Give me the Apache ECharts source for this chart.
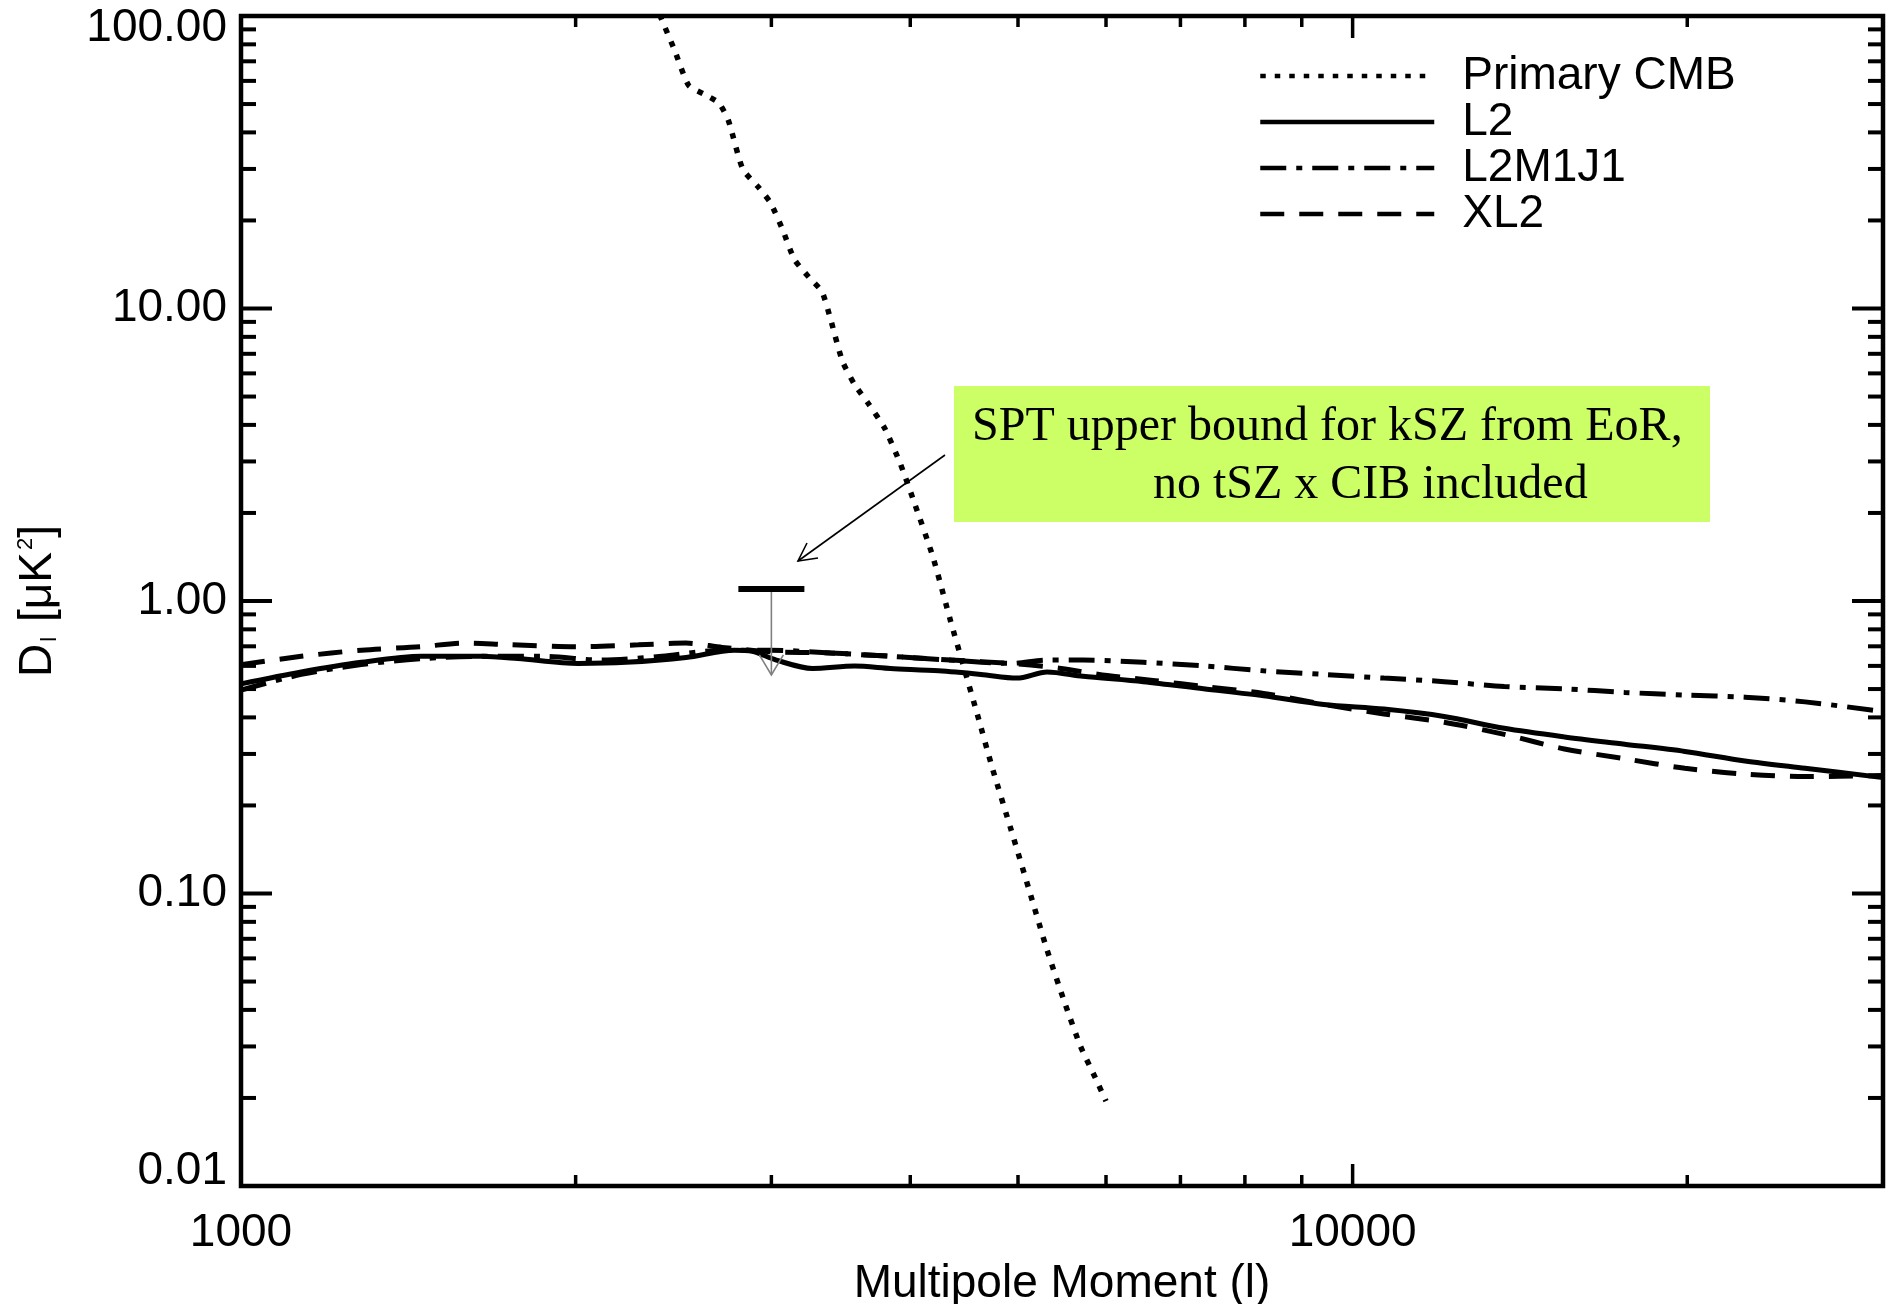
<!DOCTYPE html>
<html>
<head>
<meta charset="utf-8">
<script src="https://cdn.jsdelivr.net/npm/echarts@6/dist/echarts.min.js"></script>
<style>
  html, body { margin: 0; padding: 0; background: #ffffff; }
  #chart { width: 1887px; height: 1304px; }
</style>
</head>
<body>
<div id="chart"></div>
<script>
// Angular power spectrum components, D_l in uK^2 versus multipole l
const cmbEll = [2380, 2453, 2527, 2610, 2690, 2744, 2827, 2920, 2994, 3069, 3147, 3242, 3332, 3391, 3476, 3564, 3672, 3793, 3918, 4037, 4191, 4350, 4460, 4596, 4746, 4927, 5116, 5311, 5512, 5692, 5867, 6000];
const cmbD   = [101, 77, 58, 54, 50.5, 44, 30, 26, 23, 18.7, 14.7, 12.8, 11.4, 9.2, 6.6, 5.5, 4.7, 3.9, 2.95, 2.15, 1.42, 0.85, 0.61, 0.41, 0.265, 0.166, 0.103, 0.064, 0.042, 0.030, 0.0235, 0.0195];

const l2Ell = [1000, 1133, 1283, 1453, 1646, 1774, 2010, 2220, 2514, 2778, 2883, 3031, 3266, 3564, 3840, 4243, 4631, 4989, 5311, 5721, 6481, 7342, 8316, 9420, 10670, 12086, 13690, 15508, 17567, 19900, 22540, 25530, 30000];
const l2D   = [0.521, 0.572, 0.617, 0.647, 0.647, 0.636, 0.612, 0.617, 0.641, 0.679, 0.673, 0.628, 0.588, 0.599, 0.588, 0.577, 0.561, 0.545, 0.572, 0.553, 0.530, 0.501, 0.474, 0.443, 0.427, 0.403, 0.367, 0.343, 0.324, 0.306, 0.284, 0.268, 0.249];

const l2m1j1Ell = [1000, 1133, 1283, 1453, 1646, 1865, 2112, 2391, 2710, 2994, 3391, 3840, 4350, 4927, 5311, 5721, 6481, 7342, 8316, 9420, 10670, 12086, 13690, 15508, 17567, 19900, 22540, 25530, 30000];
const l2m1j1D   = [0.496, 0.561, 0.606, 0.635, 0.647, 0.647, 0.628, 0.647, 0.679, 0.679, 0.664, 0.647, 0.628, 0.612, 0.628, 0.628, 0.617, 0.600, 0.577, 0.561, 0.545, 0.530, 0.510, 0.501, 0.487, 0.477, 0.469, 0.452, 0.419];

const xl2Ell = [1000, 1133, 1283, 1453, 1586, 1733, 2010, 2277, 2514, 2710, 2994, 3391, 3840, 4350, 4927, 5444, 6015, 6645, 7342, 8316, 9420, 10670, 12086, 13690, 15508, 17567, 19900, 22540, 25530, 30000];
const xl2D   = [0.606, 0.647, 0.679, 0.698, 0.718, 0.710, 0.698, 0.708, 0.718, 0.694, 0.671, 0.664, 0.647, 0.628, 0.612, 0.589, 0.556, 0.534, 0.510, 0.483, 0.443, 0.411, 0.385, 0.350, 0.312, 0.289, 0.268, 0.256, 0.251, 0.253];

// SPT upper bound on kSZ from the epoch of reionization
const boundEll = [3000];
const boundD   = [1.1];

// Axis ticks and their labels
const xMajorTicks = [1000, 10000];
const xMinorTicks = [2000, 3000, 4000, 5000, 6000, 7000, 8000, 9000, 20000, 30000];
const xTickLabels = ['1000', '10000'];
const yMajorTicks = [0.01, 0.1, 1, 10, 100];
const yMinorTicks = [0.02, 0.03, 0.04, 0.05, 0.06, 0.07, 0.08, 0.09,
                     0.2, 0.3, 0.4, 0.5, 0.6, 0.7, 0.8, 0.9,
                     2, 3, 4, 5, 6, 7, 8, 9,
                     20, 30, 40, 50, 60, 70, 80, 90];
const yTickLabels = ['0.01', '0.10', '1.00', '10.00', '100.00'];

const seriesNames = ['Primary CMB', 'L2', 'L2M1J1', 'XL2'];

const SANS = '"Liberation Sans", Arial, Helvetica, sans-serif';
const SERIF = '"Liberation Serif", "Times New Roman", serif';

function pairs(xs, ys) { return xs.map((x, i) => [x, ys[i]]); }

function labelFor(values, labels, v) {
  for (let i = 0; i < values.length; i++) {
    if (Math.abs(Math.log10(v) - Math.log10(values[i])) < 1e-6) return labels[i];
  }
  return '';
}

const chart = echarts.init(document.getElementById('chart'), null, { renderer: 'canvas' });

const xTickData = xMajorTicks.map(v => [v, 1, 1]).concat(xMinorTicks.map(v => [v, 1, 0]));
const yTickData = yMajorTicks.map(v => [1000, v, 1]).concat(yMinorTicks.map(v => [1000, v, 0]));

const option = {
  animation: false,
  backgroundColor: '#ffffff',
  grid: {
    left: 241, right: 4, top: 16, bottom: 118,
    outerBoundsMode: 'none',
    containLabel: false,
    show: true, borderColor: '#000', borderWidth: 4.5, backgroundColor: 'transparent'
  },
  xAxis: {
    type: 'log', logBase: 10, min: 1000, max: 30000,
    axisLine: { show: false },
    axisTick: { show: false },
    minorTick: { show: false },
    splitLine: { show: false },
    axisLabel: {
      fontFamily: SANS, fontSize: 46, color: '#000', margin: 24,
      formatter: v => labelFor(xMajorTicks, xTickLabels, v)
    },
    name: 'Multipole Moment (l)',
    nameLocation: 'middle',
    nameGap: 71,
    nameTextStyle: { fontFamily: SANS, fontSize: 46, color: '#000' }
  },
  yAxis: {
    type: 'log', logBase: 10, min: 0.01, max: 100,
    axisLine: { show: false },
    axisTick: { show: false },
    minorTick: { show: false },
    splitLine: { show: false },
    axisLabel: {
      fontFamily: SANS, fontSize: 46, color: '#000', margin: 14,
      formatter: v => {
        const t = labelFor(yMajorTicks, yTickLabels, v);
        if (v > 50) return '{top|' + t + '}';
        if (v < 0.02) return '{bot|' + t + '}';
        return t;
      },
      rich: {
        top: { fontFamily: SANS, fontSize: 46, color: '#000', padding: [24, 0, 0, 0] },
        bot: { fontFamily: SANS, fontSize: 46, color: '#000', padding: [0, 0, 30, 0] }
      }
    },
    name: 'D{sub|l} [μK{sup|2}]',
    nameLocation: 'middle',
    nameRotate: 90,
    nameGap: 180,
    nameTextStyle: {
      fontFamily: SANS, fontSize: 46, color: '#000',
      rich: {
        sub: { fontFamily: SANS, fontSize: 22, color: '#000', verticalAlign: 'bottom', padding: [0, 2, 0, 2] },
        sup: { fontFamily: SANS, fontSize: 22, color: '#000', verticalAlign: 'top', padding: [0, 0, 0, 2] }
      }
    }
  },
  legend: {
    orient: 'vertical',
    left: 1258, top: 53,
    padding: 0,
    itemWidth: 174, itemHeight: 20, itemGap: 0,
    data: seriesNames,
    textStyle: { fontFamily: SANS, fontSize: 46, color: '#000', lineHeight: 46, padding: [0, 0, 0, 23] },
    lineStyle: { width: 4.5 },
    itemStyle: { opacity: 0 }
  },
  graphic: [
    {
      type: 'rect', z: 50,
      shape: { x: 954, y: 386, width: 756, height: 136 },
      style: { fill: '#CCFF66' }
    },
    {
      type: 'text', z: 51, x: 972, y: 427,
      style: { text: 'SPT upper bound for kSZ from EoR,', font: '48px ' + SERIF, fill: '#000', verticalAlign: 'middle', align: 'left' }
    },
    {
      type: 'text', z: 51, x: 1153, y: 485,
      style: { text: 'no tSZ x CIB included', font: '48px ' + SERIF, fill: '#000', verticalAlign: 'middle', align: 'left' }
    },
    {
      type: 'line', z: 51,
      shape: { x1: 945, y1: 455, x2: 798, y2: 561 },
      style: { stroke: '#000', lineWidth: 1.6 }
    },
    {
      type: 'polyline', z: 51,
      shape: { points: [[818, 558], [798, 561], [807, 543]] },
      style: { stroke: '#000', lineWidth: 1.6, fill: null }
    }
  ],
  series: [
    {
      name: 'Primary CMB', type: 'line', data: pairs(cmbEll, cmbD),
      symbol: 'none', smooth: 0.2, z: 3,
      lineStyle: { color: '#000', width: 5.5, type: [5.5, 9], cap: 'butt' }
    },
    {
      name: 'L2', type: 'line', data: pairs(l2Ell, l2D),
      symbol: 'none', smooth: 0.3, z: 4,
      lineStyle: { color: '#000', width: 5, type: 'solid' }
    },
    {
      name: 'L2M1J1', type: 'line', data: pairs(l2m1j1Ell, l2m1j1D),
      symbol: 'none', smooth: 0.3, z: 3,
      lineStyle: { color: '#000', width: 5, type: [26, 10, 6, 10] }
    },
    {
      name: 'XL2', type: 'line', data: pairs(xl2Ell, xl2D),
      symbol: 'none', smooth: 0.3, z: 3,
      lineStyle: { color: '#000', width: 5, type: [24, 15] }
    },
    {
      // upper bound: horizontal bar with a downward arrow
      name: 'SPT bound', type: 'custom', z: 6,
      data: pairs(boundEll, boundD),
      renderItem: (params, api) => {
        const p = api.coord([api.value(0), api.value(1)]);
        const arrowLen = 86;
        return {
          type: 'group',
          children: [
            { type: 'line', shape: { x1: p[0], y1: p[1] + 3, x2: p[0], y2: p[1] + arrowLen },
              style: { stroke: '#808080', lineWidth: 1.6 } },
            { type: 'polyline', shape: { points: [[p[0] - 12, p[1] + arrowLen - 20], [p[0], p[1] + arrowLen], [p[0] + 12, p[1] + arrowLen - 20]] },
              style: { stroke: '#808080', lineWidth: 1.6, fill: null } },
            { type: 'rect', shape: { x: p[0] - 33, y: p[1] - 3, width: 66, height: 6 },
              style: { fill: '#000' } }
          ]
        };
      }
    },
    {
      // ticks along the bottom and top edges
      name: 'xticks', type: 'custom', z: 8, silent: true,
      data: xTickData,
      renderItem: (params, api) => {
        const cs = params.coordSys;
        const px = api.coord([api.value(0), 1])[0];
        const len = api.value(2) ? 22 : 11;
        const st = { stroke: '#000', lineWidth: 3.5 };
        return {
          type: 'group',
          children: [
            { type: 'line', shape: { x1: px, y1: cs.y + cs.height, x2: px, y2: cs.y + cs.height - len }, style: st },
            { type: 'line', shape: { x1: px, y1: cs.y, x2: px, y2: cs.y + len }, style: st }
          ]
        };
      }
    },
    {
      // ticks along the left and right edges
      name: 'yticks', type: 'custom', z: 8, silent: true,
      data: yTickData,
      renderItem: (params, api) => {
        const cs = params.coordSys;
        const py = api.coord([1000, api.value(1)])[1];
        const len = api.value(2) ? 31 : 15;
        const st = { stroke: '#000', lineWidth: 4 };
        return {
          type: 'group',
          children: [
            { type: 'line', shape: { x1: cs.x, y1: py, x2: cs.x + len, y2: py }, style: st },
            { type: 'line', shape: { x1: cs.x + cs.width, y1: py, x2: cs.x + cs.width - len, y2: py }, style: st }
          ]
        };
      }
    }
  ]
};

chart.setOption(option);
</script>
</body>
</html>
